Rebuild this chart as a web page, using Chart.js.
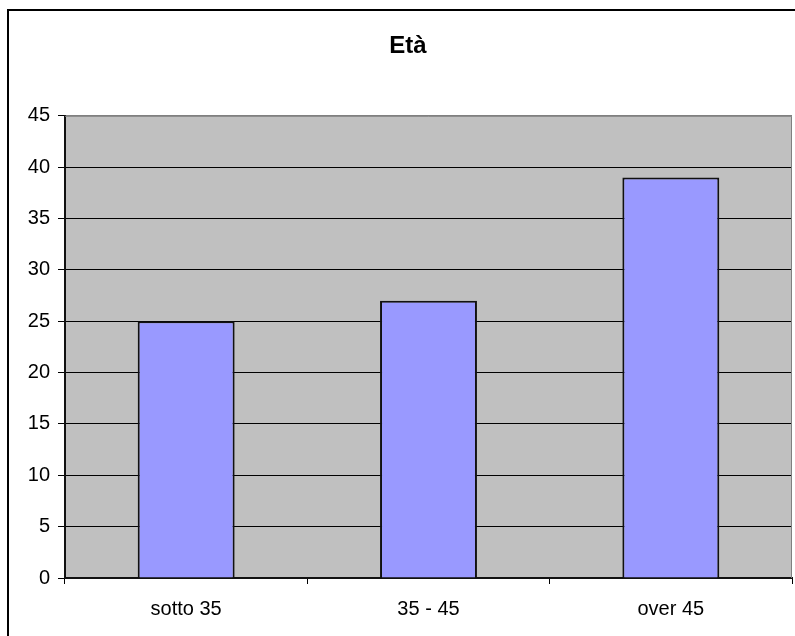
<!DOCTYPE html>
<html>
<head>
<meta charset="utf-8">
<script src="https://cdn.jsdelivr.net/npm/chart.js@4.4.0/dist/chart.umd.min.js"></script>
<style>
  body { margin: 0; background: #fff; }
  #wrap { width: 795px; height: 636px; }
</style>
</head>
<body>
<div id="wrap"><canvas id="etaChart" width="795" height="636"></canvas></div>
<script>
// Età - data
var categories = ['sotto 35', '35 - 45', 'over 45'];
var values = [25, 27, 39];
var yTicks = [0, 5, 10, 15, 20, 25, 30, 35, 40, 45];

var fontFamily = '"Liberation Sans", Arial, sans-serif';

// grey plot area + outer frame, like the old Excel charts
var excelLook = {
    id: 'excelLook',
    beforeDraw: function (chart) {
        var ctx = chart.ctx, a = chart.chartArea;
        ctx.save();
        ctx.fillStyle = '#C0C0C0';
        ctx.fillRect(a.left, a.top, a.right - a.left, a.bottom - a.top);
        ctx.strokeStyle = '#000';
        ctx.lineWidth = 2;
        ctx.beginPath();
        ctx.moveTo(8, 636);
        ctx.lineTo(8, 10);
        ctx.lineTo(795, 10);
        ctx.stroke();
        ctx.restore();
    },
    afterDraw: function (chart) {
        var ctx = chart.ctx, a = chart.chartArea;
        ctx.save();
        ctx.strokeStyle = '#808080';
        ctx.lineWidth = 1;
        ctx.beginPath();
        ctx.moveTo(a.left, a.top + 0.5);
        ctx.lineTo(a.right - 0.5, a.top + 0.5);
        ctx.lineTo(a.right - 0.5, a.bottom);
        ctx.stroke();
        ctx.restore();
    }
};

new Chart(document.getElementById('etaChart'), {
    type: 'bar',
    data: {
        labels: categories,
        datasets: [{
            data: values,
            backgroundColor: '#9999FF',
            borderColor: '#111',
            borderWidth: 2,
            barPercentage: 0.4,
            categoryPercentage: 1.0
        }]
    },
    options: {
        responsive: false,
        animation: false,
        // left padding is wider so the title sits a bit right of centre, as in the original
        layout: { padding: { left: 24, right: 3, top: 0, bottom: 0 } },
        plugins: {
            legend: { display: false },
            tooltip: { enabled: false },
            title: {
                display: true,
                text: 'Età',
                color: '#000',
                font: { family: fontFamily, size: 24, weight: 'bold' },
                padding: { top: 32, bottom: 55 }
            }
        },
        scales: {
            x: {
                offset: true,
                grid: { offset: true, drawOnChartArea: false, color: '#000', tickLength: 6 },
                border: { color: '#111', width: 2 },
                ticks: { color: '#000', font: { family: fontFamily, size: 20 }, padding: 13 },
                afterFit: function (scale) { scale.height = 58; }
            },
            y: {
                min: 0,
                max: 45,
                afterBuildTicks: function (scale) {
                    scale.ticks = yTicks.map(function (v) { return { value: v }; });
                },
                grid: {
                    color: function (c) { return c.tick && c.tick.value === 45 ? '#808080' : '#000'; },
                    tickColor: '#000',
                    tickLength: 7
                },
                border: { color: '#111', width: 2 },
                ticks: { color: '#000', font: { family: fontFamily, size: 20 }, padding: 8 },
                afterFit: function (scale) { scale.width = 41; }
            }
        }
    },
    plugins: [excelLook]
});
</script>
</body>
</html>
